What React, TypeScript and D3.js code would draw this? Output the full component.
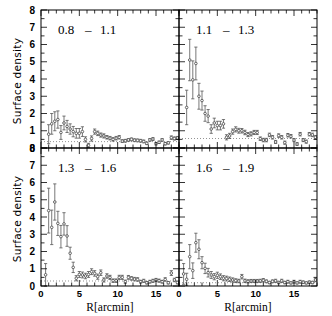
import React from "react";
import * as d3 from "d3";

// radial bins (arcmin)
const radii = [0.6, 1.0, 1.4, 1.8, 2.2, 2.6, 3.0, 3.4, 3.8, 4.2, 4.6, 5.0, 5.4, 5.8, 6.2, 6.6, 7.0, 7.4, 7.8, 8.2, 8.6, 9.0, 9.4, 9.8, 10.2, 10.6, 11.0, 11.4, 11.8, 12.2, 12.6, 13.0, 13.4, 13.8, 14.2, 14.6, 15.0, 15.4, 15.8, 16.2, 16.6, 17.0, 17.4, 17.8];

const densA = [null, 0.8, 1.4, 1.55, 1.65, 0.9, 1.45, 1.25, 1.1, 0.95, 0.85, 0.85, 0.95, 0.5, 0.15, 0.55, 0.95, 0.85, 0.75, 0.7, 0.62, 0.57, 0.5, 0.57, 0.62, 0.4, 0.42, 0.47, 0.5, 0.45, 0.44, 0.42, 0.38, 0.27, 0.47, 0.52, 0.25, 0.33, 0.47, 0.25, 0.3, 0.6, 0.55, 0.58];
const errA = [null, 0.55, 0.6, 0.55, 0.5, 0.4, 0.4, 0.35, 0.3, 0.3, 0.28, 0.28, 0.28, 0.15, 0.12, 0.15, 0.15, 0.13, 0.12, 0.12, 0.1, 0.1, 0.1, 0.1, 0.1, 0.08, 0.08, 0.08, 0.08, 0.08, 0.08, 0.08, 0.08, 0.07, 0.08, 0.08, 0.07, 0.07, 0.08, 0.07, 0.07, 0.1, 0.09, 0.09];

const densB = [null, 2.35, 5.1, 3.95, 4.9, 3.0, 2.75, 2.0, 1.85, 1.1, 1.45, 1.3, 1.3, 1.4, 0.62, 0.7, 0.95, 1.08, 1.0, 1.0, 0.9, 0.78, 0.82, 0.9, 0.9, 0.54, 0.46, 0.46, 0.76, 0.62, 0.35, 0.72, 0.62, 0.31, 0.74, 0.68, 0.46, 0.23, 0.8, 0.46, 0.37, 0.8, 0.76, 0.62];
const errB = [null, 1.0, 1.2, 1.1, 0.95, 0.75, 0.55, 0.45, 0.38, 0.25, 0.28, 0.25, 0.25, 0.25, 0.15, 0.15, 0.15, 0.15, 0.14, 0.13, 0.13, 0.12, 0.12, 0.12, 0.12, 0.1, 0.1, 0.1, 0.1, 0.1, 0.09, 0.1, 0.1, 0.09, 0.1, 0.1, 0.09, 0.08, 0.1, 0.09, 0.09, 0.1, 0.1, 0.1];

const densC = [0.65, 4.37, 3.4, 4.87, 3.63, 2.86, 3.6, 2.9, 1.9, 1.08, 0.45, 0.67, 0.64, 0.58, 0.67, 0.83, 0.73, 0.54, 0.77, 0.35, 0.58, 0.5, 0.31, 0.31, 0.5, 0.5, 0.25, 0.5, 0.44, 0.4, 0.38, 0.25, 0.3, 0.19, 0.25, 0.3, 0.35, 0.31, 0.25, 0.38, 0.19, 0.75, 0.35, 0.2];
const errC = [0.65, 1.3, 1.0, 1.05, 0.7, 0.65, 0.65, 0.6, 0.35, 0.3, 0.15, 0.17, 0.17, 0.16, 0.17, 0.17, 0.16, 0.15, 0.16, 0.12, 0.13, 0.12, 0.1, 0.1, 0.12, 0.12, 0.09, 0.11, 0.1, 0.1, 0.1, 0.08, 0.09, 0.07, 0.08, 0.09, 0.09, 0.09, 0.08, 0.1, 0.07, 0.14, 0.1, 0.08];

const densD = [0.7, 0.39, 1.7, 0.89, 2.51, 2.13, 1.35, 1.02, 0.77, 0.64, 0.54, 0.62, 0.54, 0.45, 0.43, 0.39, 0.35, 0.31, 0.29, 0.54, 0.3, 0.27, 0.29, 0.29, 0.29, 0.3, 0.33, 0.27, 0.2, 0.27, 0.3, 0.2, 0.3, 0.2, 0.25, 0.18, 0.25, 0.18, 0.25, 0.22, 0.18, 0.22, 0.2, 0.35];
const errD = [0.6, 0.35, 0.7, 0.45, 0.55, 0.55, 0.35, 0.3, 0.25, 0.2, 0.18, 0.18, 0.16, 0.15, 0.14, 0.13, 0.12, 0.11, 0.1, 0.13, 0.1, 0.09, 0.09, 0.09, 0.09, 0.09, 0.1, 0.08, 0.07, 0.08, 0.09, 0.07, 0.09, 0.07, 0.08, 0.06, 0.08, 0.06, 0.08, 0.07, 0.06, 0.07, 0.07, 0.1];

const backgrounds = [0.37, 0.55, 0.29, 0.19];
const rangeLabels = [["0.8", "1.1"], ["1.1", "1.3"], ["1.3", "1.6"], ["1.6", "1.9"]];
const xTicks = [0, 5, 10, 15];
const yTicks = [0, 1, 2, 3, 4, 5, 6, 7, 8];

const panels = [
  { dens: densA, err: errA, col: 0, row: 0 },
  { dens: densB, err: errB, col: 1, row: 0 },
  { dens: densC, err: errC, col: 0, row: 1 },
  { dens: densD, err: errD, col: 1, row: 1 },
];

const W = 332;
const H = 316;
const x0 = 41;
const pw = 138;
const y0 = 10;
const ph = 138;

const tickFont = "'Liberation Sans', Arial, sans-serif";
const serif = "'Liberation Serif', 'Times New Roman', serif";

const Panel = ({ p, i }) => {
  const left = x0 + p.col * pw;
  const top = y0 + p.row * ph;
  const x = d3.scaleLinear().domain([0, 18]).range([left, left + pw]);
  const y = d3.scaleLinear().domain([0, 8]).range([top + ph, top]);
  const xMinor = d3.range(0, 19, 1);
  const yMinor = d3.range(0, 8.01, 0.5);
  const bg = backgrounds[i];
  const lab = rangeLabels[i];

  return (
    <g>
      {/* background level */}
      <line x1={x(0)} x2={x(18)} y1={y(bg)} y2={y(bg)} stroke="#777" strokeWidth={0.8} strokeDasharray="1,2" />

      {/* error bars + points */}
      {radii.map((r, k) => {
        const v = p.dens[k];
        const e = p.err[k];
        if (v == null) return null;
        const cx = x(r);
        const lo = y(Math.max(0, v - e));
        const hi = y(v + e);
        return (
          <g key={k} stroke="#555" strokeWidth={0.8} fill="none">
            <line x1={cx} x2={cx} y1={lo} y2={hi} />
            <line x1={cx - 1.6} x2={cx + 1.6} y1={hi} y2={hi} />
            <line x1={cx - 1.6} x2={cx + 1.6} y1={lo} y2={lo} />
            <circle cx={cx} cy={y(v)} r={1.3} fill="#fff" stroke="#444" />
          </g>
        );
      })}

      {/* frame */}
      <rect x={left} y={top} width={pw} height={ph} fill="none" stroke="#000" strokeWidth={1} />

      {/* x ticks, top and bottom */}
      {xMinor.map((t) => {
        const len = t % 5 === 0 ? 6 : 3.5;
        return (
          <g key={"xt" + t} stroke="#000" strokeWidth={0.8}>
            <line x1={x(t)} x2={x(t)} y1={top + ph} y2={top + ph - len} />
            <line x1={x(t)} x2={x(t)} y1={top} y2={top + len} />
          </g>
        );
      })}

      {/* y ticks, left and right */}
      {yMinor.map((t) => {
        const len = t % 1 === 0 ? 6 : 3.5;
        return (
          <g key={"yt" + t} stroke="#000" strokeWidth={0.8}>
            <line x1={left} x2={left + len} y1={y(t)} y2={y(t)} />
            <line x1={left + pw} x2={left + pw - len} y1={y(t)} y2={y(t)} />
          </g>
        );
      })}

      {/* y tick labels on left column */}
      {p.col === 0 &&
        yTicks.map((t) => (
          <text key={"yl" + t} x={35} y={y(t)} dy="0.36em" textAnchor="end" fontFamily={tickFont} fontWeight="bold" fontSize={10}>
            {t}
          </text>
        ))}

      {/* x tick labels on bottom row */}
      {p.row === 1 &&
        xTicks.map((t) => (
          <text key={"xl" + t} x={x(t)} y={297} textAnchor="middle" fontFamily={tickFont} fontWeight="bold" fontSize={9.5}>
            {t}
          </text>
        ))}

      {p.row === 1 && (
        <text x={(left + left + pw) / 2} y={310.5} textAnchor="middle" fontFamily={serif} fontSize={11.5}>
          R[arcmin]
        </text>
      )}

      {p.col === 0 && (
        <text
          transform={`translate(21, ${top + ph / 2 + 2}) rotate(-90)`}
          textAnchor="middle"
          fontFamily="'DejaVu Sans', sans-serif"
          fontSize={10.5}
          letterSpacing={0.3}
        >
          Surface density
        </text>
      )}

      {/* colour range label */}
      <g fontFamily={serif} fontSize={13}>
        <text x={left + 17} y={top + 24}>{lab[0]}</text>
        <text x={left + 44} y={top + 24}>–</text>
        <text x={left + 59} y={top + 24}>{lab[1]}</text>
      </g>
    </g>
  );
};

const App = () => {
  return (
    <svg width={W} height={H} style={{ position: "absolute", left: 0, top: 0, display: "block", background: "#fff" }}>
      {panels.map((p, i) => (
        <Panel key={i} p={p} i={i} />
      ))}
    </svg>
  );
};

export default App;
